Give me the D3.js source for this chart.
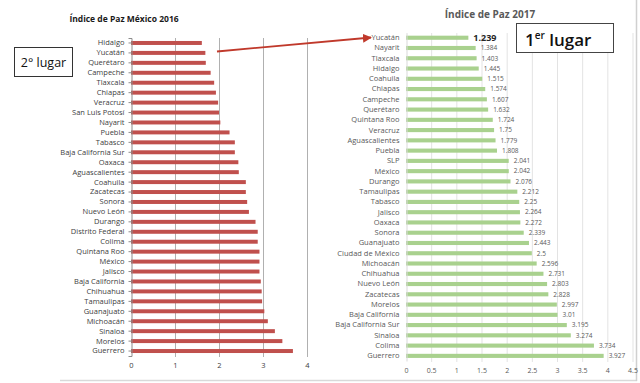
<!DOCTYPE html>
<meta charset="utf-8">
<style>
body { margin: 0; background: #fff; }
text { font-family: "Open Sans", "Liberation Sans", sans-serif; }
.cat { font-size: 7.5px; fill: #404040; }
.tick text { font-size: 7.5px; fill: #404040; }
.lbl { font-size: 6.5px; fill: #595959; }
</style>
<body>
<script src="https://d3js.org/d3.v7.min.js"></script>
<script>

// 2016 data (left chart)
var states2016 = ["Hidalgo", "Yucatán", "Querétaro", "Campeche", "Tlaxcala", "Chiapas", "Veracruz",
  "San Luis Potosí", "Nayarit", "Puebla", "Tabasco", "Baja California Sur", "Oaxaca", "Aguascalientes",
  "Coahuila", "Zacatecas", "Sonora", "Nuevo León", "Durango", "Distrito Federal", "Colima",
  "Quintana Roo", "México", "Jalisco", "Baja California", "Chihuahua", "Tamaulipas", "Guanajuato",
  "Michoacán", "Sinaloa", "Morelos", "Guerrero"];
var values2016 = [1.61, 1.69, 1.70, 1.81, 1.89, 1.93, 1.98, 2.00, 2.03, 2.24, 2.36, 2.36, 2.44, 2.45,
  2.61, 2.61, 2.64, 2.68, 2.83, 2.88, 2.88, 2.92, 2.92, 2.92, 2.95, 2.97, 2.98, 3.03, 3.11, 3.27, 3.44, 3.68];
var ticks2016 = [0, 1, 2, 3, 4];

// 2017 data (right chart)
var states2017 = ["Yucatán", "Nayarit", "Tlaxcala", "Hidalgo", "Coahuila", "Chiapas", "Campeche",
  "Querétaro", "Quintana Roo", "Veracruz", "Aguascalientes", "Puebla", "SLP", "México", "Durango",
  "Tamaulipas", "Tabasco", "Jalisco", "Oaxaca", "Sonora", "Guanajuato", "Ciudad de México",
  "Michoacán", "Chihuahua", "Nuevo León", "Zacatecas", "Morelos", "Baja California",
  "Baja California Sur", "Sinaloa", "Colima", "Guerrero"];
var values2017 = [1.239, 1.384, 1.403, 1.445, 1.515, 1.574, 1.607, 1.632, 1.724, 1.75, 1.779, 1.808,
  2.041, 2.042, 2.076, 2.212, 2.25, 2.264, 2.272, 2.339, 2.443, 2.5, 2.596, 2.731, 2.803, 2.828,
  2.997, 3.01, 3.195, 3.274, 3.734, 3.927];
var ticks2017 = [0, 0.5, 1, 1.5, 2, 2.5, 3, 3.5, 4, 4.5];

var svg = d3.select("body").append("svg")
    .attr("width", 640)
    .attr("height", 383);

// frame lines
svg.append("line").attr("x1", 60).attr("x2", 637).attr("y1", 380.5).attr("y2", 380.5)
    .style("stroke", "#d9d9d9").style("stroke-width", 1.5);
svg.append("line").attr("x1", 636.5).attr("x2", 636.5).attr("y1", 0).attr("y2", 381)
    .style("stroke", "#d0d0d0").style("stroke-width", 1.5);

// ---------- left chart ----------
var x0 = d3.scaleLinear().domain([0, 4]).range([131, 307]);
var y0 = d3.scaleBand().domain(states2016).range([38, 356]).paddingInner(0.6).paddingOuter(0.3);

var left = svg.append("g");

left.selectAll(".grid")
    .data(ticks2016.slice(1))
  .enter().append("line")
    .attr("x1", d => x0(d) + 0.5).attr("x2", d => x0(d) + 0.5)
    .attr("y1", 38).attr("y2", 357)
    .style("stroke", "#b0b0b0");

left.selectAll(".bar")
    .data(values2016)
  .enter().append("rect")
    .attr("x", x0(0))
    .attr("y", (d, i) => y0(states2016[i]))
    .attr("width", d => x0(d) - x0(0))
    .attr("height", y0.bandwidth())
    .style("fill", "#c0504d");

// y axis with category labels
left.append("g")
    .attr("transform", "translate(" + (x0(0) + 0.5) + ",0)")
    .call(d3.axisLeft(y0).tickSize(3).tickPadding(4))
    .call(g => g.selectAll("text").attr("class", "cat"))
    .call(g => g.selectAll("line,path").style("stroke", "#8c8c8c"));

left.append("g")
    .attr("transform", "translate(0,357)")
    .call(d3.axisBottom(x0).tickValues(ticks2016).tickFormat(d => String(d)).tickSize(0).tickPadding(6))
    .call(g => g.select(".domain").remove());

left.append("text")
    .attr("x", 124).attr("y", 22)
    .attr("text-anchor", "middle")
    .style("font-size", "8.5px").style("font-weight", "bold").style("fill", "#1a1a1a")
    .text("Índice de Paz México 2016");

// ---------- right chart ----------
var x1 = d3.scaleLinear().domain([0, 4.5]).range([406, 632.5]);
var y1 = d3.scaleBand().domain(states2017).range([32.6, 361]).paddingInner(0.6).paddingOuter(0.3);

var right = svg.append("g");

right.selectAll(".grid")
    .data(ticks2017.slice(1))
  .enter().append("line")
    .attr("x1", d => x1(d) + 0.5).attr("x2", d => x1(d) + 0.5)
    .attr("y1", 33).attr("y2", 362)
    .style("stroke", "#e3e3e3");

right.selectAll(".bar")
    .data(values2017)
  .enter().append("rect")
    .attr("x", x1(0))
    .attr("y", (d, i) => y1(states2017[i]))
    .attr("width", d => x1(d) - x1(0))
    .attr("height", y1.bandwidth())
    .style("fill", "#a9d18e");

right.append("g")
    .attr("transform", "translate(" + (x1(0) + 0.5) + ",0)")
    .call(d3.axisLeft(y1).tickSize(0).tickPadding(7))
    .call(g => g.selectAll("text").attr("class", "cat").style("fill", "#595959"))
    .call(g => g.select(".domain").style("stroke", "#d9d9d9"));

right.append("g")
    .attr("transform", "translate(0,362)")
    .call(d3.axisBottom(x1).tickValues(ticks2017).tickFormat(d => String(d)).tickSize(0).tickPadding(6))
    .call(g => g.select(".domain").remove())
    .call(g => g.selectAll("text").style("fill", "#595959").style("font-size", "7px"));

// value labels
right.selectAll(".lbl")
    .data(values2017)
  .enter().append("text")
    .attr("class", "lbl")
    .attr("x", d => x1(d) + 5)
    .attr("y", (d, i) => y1(states2017[i]) + y1.bandwidth() / 2)
    .attr("dy", "0.35em")
    .style("font-size", (d, i) => i == 0 ? "9px" : null)
    .style("font-weight", (d, i) => i == 0 ? "bold" : null)
    .style("fill", (d, i) => i == 0 ? "#262626" : null)
    .text(d => String(d));

right.append("text")
    .attr("x", 490).attr("y", 18)
    .attr("text-anchor", "middle")
    .style("font-size", "10px").style("font-weight", "bold").style("fill", "#595959")
    .text("Índice de Paz 2017");

// ---------- annotations ----------
svg.append("defs").append("marker")
    .attr("id", "arr")
    .attr("viewBox", "0 0 10 10")
    .attr("refX", 9).attr("refY", 5)
    .attr("markerWidth", 5).attr("markerHeight", 5)
    .attr("orient", "auto")
  .append("path")
    .attr("d", "M0,0L10,5L0,10z")
    .style("fill", "#c0392b");

svg.append("line")
    .attr("x1", 217).attr("y1", 51.5)
    .attr("x2", 371).attr("y2", 37.5)
    .style("stroke", "#c0392b").style("stroke-width", 1.8)
    .attr("marker-end", "url(#arr)");

svg.append("rect")
    .attr("x", 14.5).attr("y", 47.5).attr("width", 58).attr("height", 29)
    .style("fill", "#fff").style("stroke", "#333");
svg.append("text")
    .attr("x", 43.5).attr("y", 67)
    .attr("text-anchor", "middle")
    .style("font-size", "12.5px").style("fill", "#111")
    .text("2° lugar");

svg.append("rect")
    .attr("x", 516.5).attr("y", 23.5).attr("width", 97).attr("height", 29)
    .style("fill", "#fff").style("stroke", "#444");
var t1 = svg.append("text")
    .attr("x", 525).attr("y", 46)
    .style("font-size", "17px").style("fill", "#111").style("font-weight", "600");
t1.append("tspan").text("1");
t1.append("tspan").attr("dy", -7).style("font-size", "10px").text("er");
t1.append("tspan").attr("dy", 7).text(" lugar");

</script>
</body>
